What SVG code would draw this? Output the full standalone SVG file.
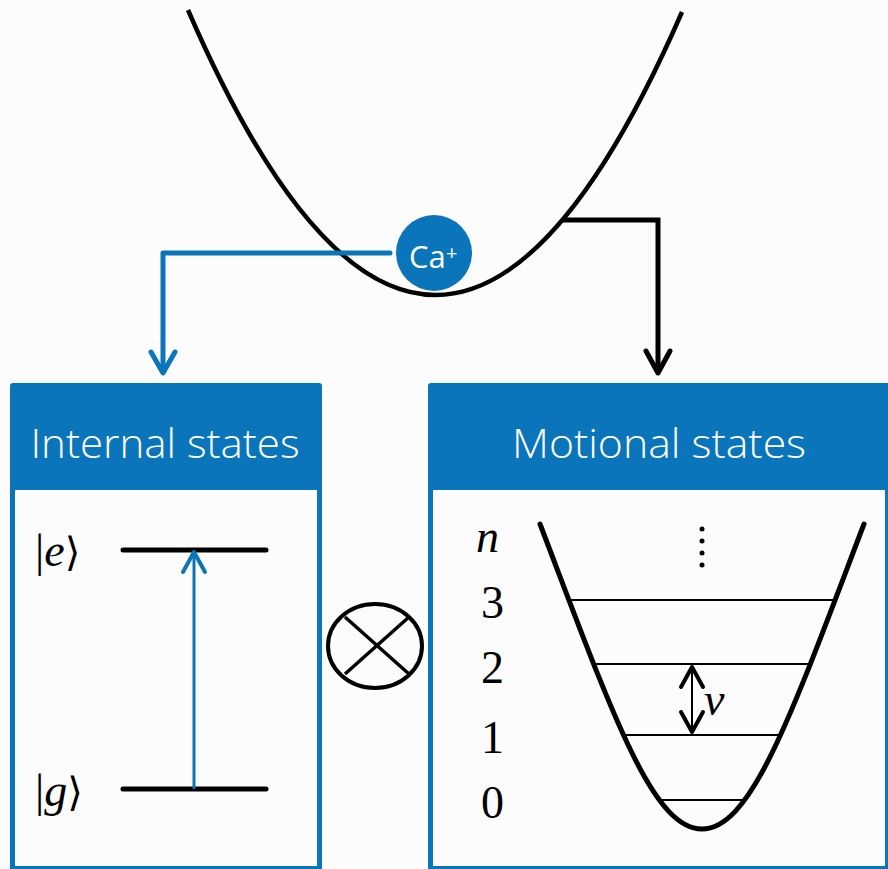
<svg xmlns="http://www.w3.org/2000/svg" width="888" height="869" viewBox="0 0 888 869">
<style>
.blue{fill:#0A75BA}
.hdr{font-family:"Open Sans","Liberation Sans",sans-serif;font-weight:300;font-size:40px;fill:#fff;text-anchor:middle}
.math{font-family:"Liberation Serif","DejaVu Serif",serif;font-size:46px;fill:#000}
.it{font-style:italic}
.lvl{stroke:#000;stroke-width:5;stroke-linecap:round;fill:none}
.thin{stroke:#000;stroke-width:2;fill:none}
</style>
<rect width="888" height="869" fill="#FCFCFC"/>
<g id="trap">
<path d="M188,10 Q435,579 682,12" fill="none" stroke="#000" stroke-width="4.5"/>
</g>
<g id="connectors">
<path d="M390,253 H163 V370" fill="none" stroke="#0A75BA" stroke-width="5" stroke-linecap="round" stroke-linejoin="round"/>
<path d="M151,352 L163,373 L175,352" fill="none" stroke="#0A75BA" stroke-width="5" stroke-linecap="round" stroke-linejoin="round"/>
<path d="M562,220 H658 V370" fill="none" stroke="#000" stroke-width="5" stroke-linejoin="miter"/>
<path d="M646,351 L658,373 L670,351" fill="none" stroke="#000" stroke-width="5" stroke-linecap="round" stroke-linejoin="round"/>
</g>
<g id="ion">
<circle cx="434" cy="253" r="38" class="blue"/>
<text x="409" y="268" font-family="Open Sans,Liberation Sans,sans-serif" font-size="31" fill="#fff">Ca</text>
<text x="446" y="260" font-family="Open Sans,Liberation Sans,sans-serif" font-size="20" fill="#fff">+</text>
</g>
<g id="internal">
<rect x="10" y="383" width="312" height="489" rx="3" class="blue"/>
<rect x="15" y="490" width="302" height="376" fill="#FCFCFC"/>
<text x="165" y="458" class="hdr" textLength="269" lengthAdjust="spacingAndGlyphs">Internal states</text>
<line x1="123" y1="550" x2="266" y2="550" class="lvl"/>
<line x1="123" y1="789" x2="266" y2="789" class="lvl"/>
<line x1="194" y1="789" x2="194" y2="553" stroke="#0A75BA" stroke-width="3"/>
<path d="M183,572 L194,552 L205,572" fill="none" stroke="#0A75BA" stroke-width="4" stroke-linecap="round" stroke-linejoin="round"/>
<text x="35" y="566" class="math">|<tspan class="it">e</tspan><tspan font-family="DejaVu Serif,serif" font-size="40">⟩</tspan></text>
<text x="35" y="806" class="math">|<tspan class="it">g</tspan><tspan font-family="DejaVu Serif,serif" font-size="40">⟩</tspan></text>
</g>
<g id="otimes">
<ellipse cx="375" cy="646" rx="47" ry="42" fill="none" stroke="#000" stroke-width="4"/>
<line x1="345" y1="617" x2="409" y2="674" stroke="#000" stroke-width="3.5"/>
<line x1="409" y1="617" x2="345" y2="674" stroke="#000" stroke-width="3.5"/>
</g>
<g id="motional">
<rect x="428" y="383" width="470" height="489" rx="3" class="blue"/>
<rect x="433" y="490" width="452" height="376" fill="#FCFCFC"/>
<text x="659" y="458" class="hdr" textLength="294" lengthAdjust="spacingAndGlyphs">Motional states</text>
<path d="M540,524 C612.5,714 652,829 702,829 C752,829 791.5,714 864,524" fill="none" stroke="#000" stroke-width="5" stroke-linecap="round"/>
<line x1="569" y1="600" x2="835" y2="600" class="thin"/>
<line x1="595" y1="664" x2="809" y2="664" class="thin"/>
<line x1="625" y1="735" x2="779" y2="735" class="thin"/>
<line x1="662" y1="800" x2="742" y2="800" class="thin"/>
<circle cx="702" cy="529" r="2.5"/>
<circle cx="702" cy="541" r="2.5"/>
<circle cx="702" cy="553" r="2.5"/>
<circle cx="702" cy="565" r="2.5"/>
<line x1="692" y1="667" x2="692" y2="731" stroke="#000" stroke-width="2"/>
<path d="M681,687 L692,667 L703,687 M681,712 L692,732 L703,712" fill="none" stroke="#000" stroke-width="4" stroke-linecap="round" stroke-linejoin="round"/>
<text x="704" y="715" class="math it">ν</text>
<text x="476" y="552" class="math it">n</text>
<text x="481" y="618" class="math">3</text>
<text x="481" y="683" class="math">2</text>
<text x="481" y="753" class="math">1</text>
<text x="481" y="818" class="math">0</text>
</g>
</svg>
